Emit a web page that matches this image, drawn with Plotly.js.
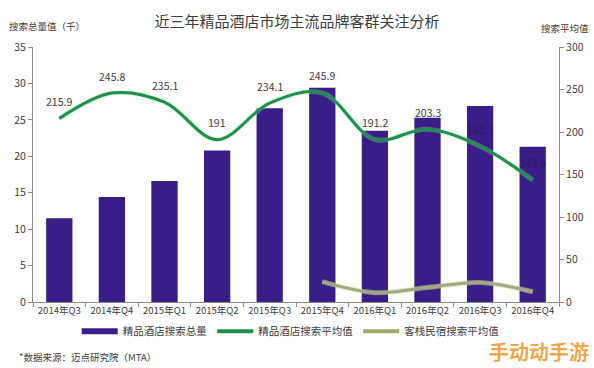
<!DOCTYPE html>
<html>
<head>
<meta charset="utf-8">
<script src="https://cdn.plot.ly/plotly-3.0.1.min.js"></script>
<style>html,body{margin:0;padding:0;background:#fff;}#chart{width:594px;height:368px;}</style>
</head>
<body>
<div id="chart"></div>
<script>
const categories = ["2014年Q3","2014年Q4","2015年Q1","2015年Q2","2015年Q3","2015年Q4","2016年Q1","2016年Q2","2016年Q3","2016年Q4"];
const searchTotal = [11.5, 14.4, 16.6, 20.8, 26.6, 29.4, 23.5, 25.3, 26.9, 21.3];
const searchAvg = [215.9, 245.8, 235.1, 191, 234.1, 245.9, 191.2, 203.3, 183.3, 143.6];
const innCategories = ["2015年Q4","2016年Q1","2016年Q2","2016年Q3","2016年Q4"];
const innAvg = [24, 11, 17, 23, 12];
const avgLabels = ["215.9","245.8","235.1","191","234.1","245.9","191.2","203.3","183.3","143.6"];

const FONT = '"Noto Sans CJK SC", "Noto Sans", sans-serif';
const barColor = '#3a1e88';
const greenColor = '#1f8f50';
const innColor = '#a3a68c';

const traces = [
  {type:'bar', x:categories, y:searchTotal, marker:{color:barColor}, width:0.5, showlegend:false, yaxis:'y'},
  {type:'scatter', mode:'lines', x:categories, y:searchAvg, yaxis:'y2', line:{color:'rgba(140,235,150,0.35)', width:5, shape:'spline', smoothing:1}, showlegend:false, hoverinfo:'skip'},
  {type:'scatter', mode:'lines', x:categories, y:searchAvg, yaxis:'y2', line:{color:greenColor, width:3, shape:'spline', smoothing:1}, showlegend:false},
  {type:'scatter', mode:'lines', x:innCategories, y:innAvg, yaxis:'y2', line:{color:'rgba(200,225,110,0.55)', width:5, shape:'spline', smoothing:1}, showlegend:false, hoverinfo:'skip'},
  {type:'scatter', mode:'lines', x:innCategories, y:innAvg, yaxis:'y2', line:{color:innColor, width:3, shape:'spline', smoothing:1}, showlegend:false},
  // legend entries
  {type:'scatter', mode:'lines', x:[categories[0]], y:[null], yaxis:'y', line:{color:barColor, width:6}, name:'精品酒店搜索总量'},
  {type:'scatter', mode:'lines', x:[categories[0]], y:[null], yaxis:'y', line:{color:greenColor, width:4}, name:'精品酒店搜索平均值'},
  {type:'scatter', mode:'lines', x:[categories[0]], y:[null], yaxis:'y', line:{color:'#9caa6e', width:4}, name:'客栈民宿搜索平均值'}
];

const annotations = categories.map((c,i)=>({
  x:c, y:searchAvg[i], xref:'x', yref:'y2', text:avgLabels[i], showarrow:false,
  yshift:17, font:{family:FONT, size:10.5, color: i>=8 ? '#2a1a60' : '#404040'}
}));
annotations.push(
  {xref:'paper', yref:'paper', x:-0.05, y:1, yshift:12, xanchor:'left', yanchor:'bottom', showarrow:false, text:'搜索总量值（千）', font:{family:FONT, size:9.5, color:'#404040'}},
  {xref:'paper', yref:'paper', x:1.06, y:1, yshift:10, xanchor:'right', yanchor:'bottom', showarrow:false, text:'搜索平均值', font:{family:FONT, size:9.5, color:'#404040'}},
  {xref:'paper', yref:'paper', x:-0.03, y:0, yshift:-55, xanchor:'left', yanchor:'middle', showarrow:false, text:'*数据来源：迈点研究院（MTA）', font:{family:FONT, size:9.5, color:'#404040'}},
  {xref:'paper', yref:'paper', x:1.06, y:0, yshift:-49, xanchor:'right', yanchor:'middle', showarrow:false, text:'<b>手动动手游</b>', font:{family:FONT, size:20, color:'rgba(240,150,40,0.85)'}}
);

const layout = {
  width:594, height:368,
  margin:{l:33, r:35, t:47, b:66},
  paper_bgcolor:'#fff', plot_bgcolor:'#fff',
  font:{family:FONT, color:'#404040'},
  title:{text:'近三年精品酒店市场主流品牌客群关注分析', x:0.5, xanchor:'center', y:0.94, yanchor:'middle', font:{family:FONT, size:15, color:'#404040'}},
  xaxis:{type:'category', categoryorder:'array', categoryarray:categories, range:[-0.5, 9.5], tickangle:0, automargin:false,
    showline:true, linecolor:'#8c8c8c', linewidth:1, ticks:'outside', tickson:'boundaries', ticklen:4, tickcolor:'#8c8c8c',
    tickfont:{family:FONT, size:9.5, color:'#404040'}, showgrid:false, zeroline:false, fixedrange:true},
  yaxis:{range:[0,35], dtick:5, showline:true, linecolor:'#8c8c8c', ticks:'outside', ticklen:4, tickcolor:'#8c8c8c', automargin:false,
    tickfont:{family:FONT, size:10.5, color:'#404040'}, showgrid:false, zeroline:false},
  yaxis2:{range:[0,300], dtick:50, overlaying:'y', side:'right', showline:true, linecolor:'#8c8c8c', ticks:'outside', ticklen:4, tickcolor:'#8c8c8c', automargin:false,
    tickfont:{family:FONT, size:10.5, color:'#404040'}, showgrid:false, zeroline:false},
  legend:{orientation:'h', x:0.49, xanchor:'center', y:-0.115, yanchor:'middle', font:{family:FONT, size:10.5, color:'#404040'}, itemwidth:36, tracegroupgap:0},
  annotations:annotations,
  showlegend:true
};

Plotly.newPlot('chart', traces, layout, {staticPlot:true, displayModeBar:false});
</script>
</body>
</html>
